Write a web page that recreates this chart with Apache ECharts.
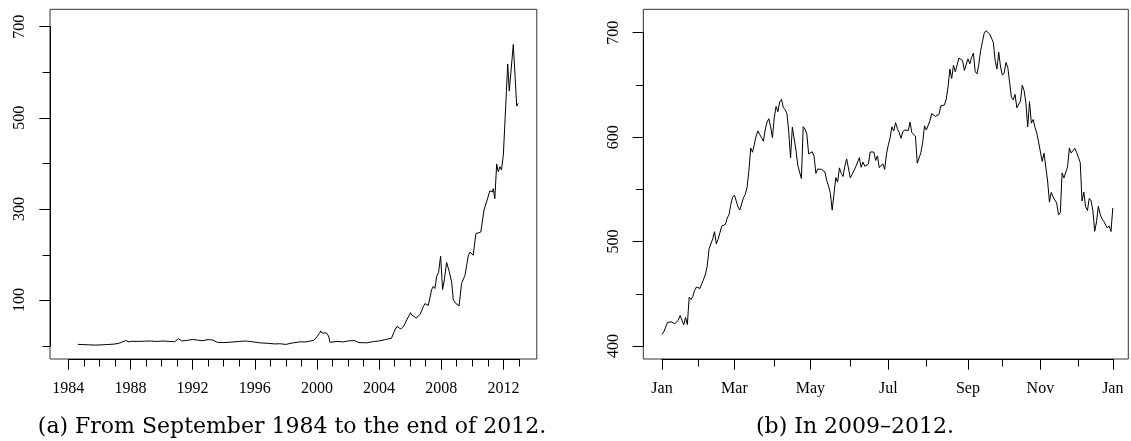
<!DOCTYPE html>
<html><head><meta charset="utf-8">
<script src="https://cdn.jsdelivr.net/npm/echarts@6/dist/echarts.min.js"></script>
<style>html,body{margin:0;padding:0;background:#fff}#c{width:1131px;height:441px}</style>
</head><body><div id="c"></div>
<script>
// ---------- Panel (a): Sep 1984 – end of 2012 ----------
const yearsA = [1984.62,1984.9,1985.3,1985.7,1986.1,1986.5,1986.9,1987.2,1987.45,1987.7,1987.8,1987.9,
  1988.1,1988.5,1988.9,1989.3,1989.7,1990.1,1990.5,1990.85,1991.1,1991.3,1991.7,1992.0,1992.3,1992.6,
  1993.0,1993.3,1993.6,1994.0,1994.5,1995.0,1995.4,1995.8,1996.3,1996.8,1997.3,1997.6,1998.0,1998.4,
  1998.9,1999.3,1999.8,2000.0,2000.15,2000.25,2000.35,2000.6,2000.75,2000.85,2001.3,2001.7,2002.0,
  2002.4,2002.7,2003.2,2003.7,2004.0,2004.4,2004.8,2004.95,2005.15,2005.4,2005.6,2005.78,2006.03,
  2006.1,2006.25,2006.38,2006.63,2006.85,2006.95,2007.17,2007.38,2007.49,2007.6,2007.7,2007.83,
  2007.96,2008.09,2008.2,2008.35,2008.52,2008.67,2008.78,2008.95,2009.15,2009.31,2009.53,2009.74,
  2009.85,2010.06,2010.23,2010.32,2010.55,2010.75,2010.92,2011.13,2011.3,2011.35,2011.45,2011.57,
  2011.67,2011.78,2011.88,2012.0,2012.28,2012.38,2012.64,2012.75,2012.86,2012.96];
const pricesA = [3.5,3.2,2.6,2.0,2.4,3.2,4.0,5.5,8.5,12,13,9,
  10.5,10,10.5,11,10,11,10,9.5,16,11,12.5,14.5,13,11.5,
  14,13,8,7.5,8.5,10,11,9.5,7,6,4.5,5,3.5,6.5,
  9,9,12.5,20,27,33,28,29,22,8,10,9,11,
  12,7.5,7,10,11,14,17,30,43,37,44,57,73,
  68,65,61,69,86,93,89,123,131,126,152,161,
  197,124,145,183,163,140,101,93,88,137,155,197,
  206,199,246,250,250,298,316,340,338,345,323,399,
  382,393,386,419,618,559,661,659,526,532];
const yearTicksA = [1984,1988,1992,1996,2000,2004,2008,2012];

// ---------- Panel (b): daily closes, one trading year ----------
const tradingDays = [
  [3,4,5,6,9,10,11,12,13,17,18,19,20,23,24,25,26,27,30,31],
  [1,2,3,6,7,8,9,10,13,14,15,16,17,21,22,23,24,27,28,29],
  [1,2,5,6,7,8,9,12,13,14,15,16,19,20,21,22,23,26,27,28,29,30],
  [2,3,4,5,9,10,11,12,13,16,17,18,19,20,23,24,25,26,27,30],
  [1,2,3,4,7,8,9,10,11,14,15,16,17,18,21,22,23,24,25,29,30,31],
  [1,4,5,6,7,8,11,12,13,14,15,18,19,20,21,22,25,26,27,28,29],
  [2,3,5,6,9,10,11,12,13,16,17,18,19,20,23,24,25,26,27,30,31],
  [1,2,3,6,7,8,9,10,13,14,15,16,17,20,21,22,23,24,27,28,29,30,31],
  [4,5,6,7,10,11,12,13,14,17,18,19,20,21,24,25,26,27,28],
  [1,2,3,4,5,8,9,10,11,12,15,16,17,18,19,22,23,24,25,26,31],
  [1,2,5,6,7,8,9,12,13,14,15,16,19,20,21,23,26,27,28,29,30],
  [3,4,5,6,7,10,11,12,13,14,17,18,19,20,21,24,26,27,28,31]
];
const closeB = [
  411.23,413.44,418.03,422.40,421.73,423.24,422.55,421.39,419.81,424.70,429.11,427.75,420.30,427.41,420.41,446.66,444.63,447.28,453.01,456.48,
  456.19,455.12,459.68,463.97,468.83,476.68,493.17,493.42,502.60,509.46,497.67,502.21,502.12,514.85,513.04,516.39,522.41,525.76,535.41,542.44,
  544.47,545.18,533.16,530.26,530.69,541.99,545.17,552.00,568.10,589.58,585.56,585.57,601.10,605.96,602.50,599.34,596.05,606.98,614.48,617.62,609.86,599.55,
  618.63,629.32,624.31,633.68,636.23,628.44,626.20,622.77,605.23,580.13,609.70,608.34,587.44,572.98,571.70,560.28,610.00,607.70,603.00,583.98,
  582.13,585.98,581.82,565.25,569.48,568.18,569.18,570.52,566.71,558.22,553.17,546.08,530.12,530.38,561.28,556.97,570.56,565.32,562.29,572.27,579.17,577.73,
  560.99,564.29,562.83,571.46,571.72,580.32,571.17,576.16,572.16,571.53,574.13,585.78,587.41,585.74,577.67,582.10,570.77,572.02,574.50,569.05,584.00,
  592.52,599.41,609.94,605.88,613.89,608.21,604.43,598.90,604.97,606.91,606.94,606.26,614.32,604.30,603.83,600.92,574.97,574.88,585.16,595.03,610.76,
  606.81,607.79,615.70,622.55,620.91,619.86,620.73,621.70,630.00,631.69,630.83,636.34,648.11,665.15,656.06,668.87,662.63,663.22,675.68,674.80,673.47,663.87,665.24,
  674.97,670.23,676.27,680.44,662.74,660.59,669.79,682.98,691.28,699.78,701.91,702.10,698.70,700.09,690.79,673.54,665.18,681.32,667.10,
  659.39,661.31,671.45,666.80,652.59,638.17,635.85,640.91,628.10,629.71,634.76,649.79,644.61,632.64,609.84,634.03,613.36,616.83,609.54,604.00,595.32,
  596.54,576.80,584.62,582.85,558.00,537.75,547.06,542.83,542.90,536.88,525.62,527.68,565.73,560.91,561.70,571.50,589.53,584.78,582.94,589.36,585.28,
  586.19,575.85,538.79,547.24,533.25,529.82,541.39,539.00,529.69,509.79,518.83,533.90,526.31,521.73,519.33,520.17,513.00,515.06,509.59,532.17
];
const monthNames = ['Jan','Feb','Mar','Apr','May','Jun','Jul','Aug','Sep','Oct','Nov','Dec'];
const captions = ['(a) From September 1984 to the end of 2012.', '(b) In 2009\u20132012.'];

// ---------- build ----------
const datesB = [];
const monthOf = [];
tradingDays.forEach((days, m) => days.forEach(d => { datesB.push('2012-' + String(m + 1).padStart(2, '0') + '-' + String(d).padStart(2, '0')); monthOf.push(m); }));
const lastIdx = datesB.length - 1;
const minorIdx = new Set([lastIdx]);
const majorIdx = new Map([[lastIdx, 'Jan']]);
monthOf.forEach((m, i) => { if (i === 0 || monthOf[i - 1] !== m) { minorIdx.add(i); if (m % 2 === 0) majorIdx.set(i, monthNames[m]); } });

const FONT = 'Liberation Serif';
const CAPFONT = 'DejaVu Serif';
const black = '#000';
const lab = { fontFamily: FONT, fontSize: 16, color: black };
const hidden = (g, t) => ({ gridIndex: g, type: t || 'value', show: false });
const line = { show: true, onZero: false, lineStyle: { color: black, width: 1 } };
const noLine = { show: false, onZero: false };
const capStyle = { fontFamily: CAPFONT, fontSize: 22, fontWeight: 'normal', color: black };

const option = {
  animation: false,
  backgroundColor: '#fff',
  title: [
    { text: captions[0], left: 287, top: 411, textAlign: 'center', textStyle: capStyle },
    { text: captions[1], left: 850, top: 411, textAlign: 'center', textStyle: capStyle }
  ],
  grid: [
    { left: 50, top: 9.3, width: 486.8, height: 349.7, show: true, borderColor: '#333', borderWidth: 1 },
    { left: 68.3, top: 26.7, width: 450.6, height: 319.3 },
    { left: 68.3, top: 26.7, width: 435.1, height: 273.3 },
    { left: 643.3, top: 9.3, width: 485, height: 349.7, show: true, borderColor: '#333', borderWidth: 1 },
    { left: 662, top: 32.7, width: 450.8, height: 313.3 }
  ],
  xAxis: [
    hidden(0),
    { gridIndex: 1, type: 'value', position: 'bottom', min: 1984, max: 2013, interval: 1, offset: 13,
      axisLine: line,
      axisTick: { show: true, length: 7.5, lineStyle: { color: black } },
      axisLabel: { show: false }, splitLine: { show: false } },
    { gridIndex: 2, type: 'value', position: 'bottom', min: yearTicksA[0], max: yearTicksA[yearTicksA.length - 1], interval: 4, offset: 59,
      axisLine: noLine,
      axisTick: { show: true, length: 10.7, lineStyle: { color: black } },
      axisLabel: Object.assign({ show: true, margin: 22, formatter: v => String(v) }, lab), splitLine: { show: false } },
    hidden(3),
    { gridIndex: 4, type: 'category', position: 'bottom', data: datesB, boundaryGap: false, offset: 13,
      axisLine: line,
      axisTick: { show: true, length: 7.5, interval: i => minorIdx.has(i), lineStyle: { color: black } },
      axisLabel: { show: false }, splitLine: { show: false } },
    { gridIndex: 4, type: 'category', position: 'bottom', data: datesB, boundaryGap: false, offset: 13,
      axisLine: noLine,
      axisTick: { show: true, length: 10.7, interval: i => majorIdx.has(i), lineStyle: { color: black } },
      axisLabel: Object.assign({ show: true, margin: 22, interval: i => majorIdx.has(i), formatter: (v, i) => majorIdx.get(i) || '' }, lab),
      splitLine: { show: false } }
  ],
  yAxis: [
    hidden(0),
    { gridIndex: 1, type: 'value', position: 'left', min: 0, max: 700, interval: 100, offset: 18.3,
      axisLine: line,
      axisTick: { show: true, length: 7.5, lineStyle: { color: black } },
      axisLabel: { show: false }, splitLine: { show: false } },
    { gridIndex: 2, type: 'value', position: 'left', min: 100, max: 700, interval: 200, offset: 18.3,
      axisLine: noLine,
      axisTick: { show: true, length: 10.7, lineStyle: { color: black } },
      axisLabel: Object.assign({ show: true, rotate: 90, margin: 22 }, lab), splitLine: { show: false } },
    hidden(3),
    { gridIndex: 4, type: 'value', position: 'left', min: 400, max: 700, interval: 50, offset: 18.7,
      axisLine: line,
      axisTick: { show: true, length: 7.5, lineStyle: { color: black } },
      axisLabel: { show: false }, splitLine: { show: false } },
    { gridIndex: 4, type: 'value', position: 'left', min: 400, max: 700, interval: 100, offset: 18.7,
      axisLine: noLine,
      axisTick: { show: true, length: 10.7, lineStyle: { color: black } },
      axisLabel: Object.assign({ show: true, rotate: 90, margin: 22 }, lab), splitLine: { show: false } }
  ],
  series: [
    { type: 'line', xAxisIndex: 1, yAxisIndex: 1, data: yearsA.map((y, i) => [y, pricesA[i]]),
      symbol: 'none', lineStyle: { color: black, width: 1 }, silent: true },
    { type: 'line', xAxisIndex: 4, yAxisIndex: 4, data: closeB, clip: false,
      symbol: 'none', lineStyle: { color: black, width: 1 }, silent: true }
  ]
};
const chart = echarts.init(document.getElementById('c'), null, { renderer: 'canvas' });
chart.setOption(option);
</script>
</body></html>
